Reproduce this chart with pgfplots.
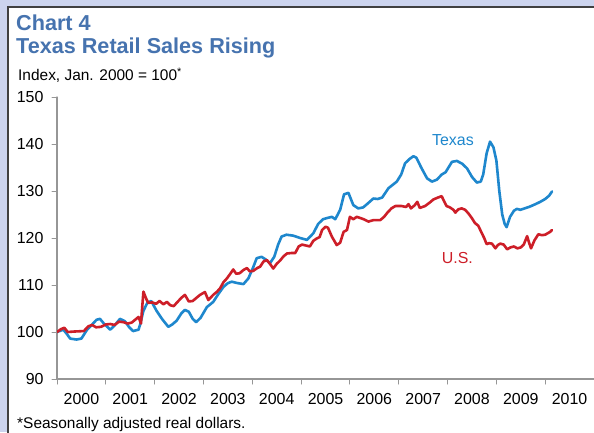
\documentclass[border=0pt]{standalone}
\usepackage{pgfplots}
\pgfplotsset{compat=1.18}
\usepackage{fontspec}
\setmainfont{Liberation Sans}
\definecolor{bgl}{RGB}{204,212,238}
\definecolor{ttl}{RGB}{70,115,175}
\definecolor{txb}{RGB}{30,135,205}
\definecolor{usr}{RGB}{205,30,40}
\definecolor{axg}{RGB}{150,150,150}
\begin{document}
\begin{tikzpicture}[x=1bp,y=1bp]
\useasboundingbox (0,0) rectangle (594,432);
\fill[bgl] (0,0) rectangle (594,432);
\fill[white] (8,-5) rectangle (600,425);
\draw[black!75, line width=1.5bp] (8,-5) -- (8,425) -- (600,425);
\node[anchor=base west, inner sep=0, text=ttl, font=\fontsize{21.7}{22}\bfseries\selectfont] at (16,401.5) {Chart 4};
\node[anchor=base west, inner sep=0, text=ttl, font=\fontsize{21.7}{22}\bfseries\selectfont] at (16,378.5) {Texas Retail Sales Rising};
\node[anchor=base west, inner sep=0, font=\fontsize{15.5}{16}\selectfont] at (18,351.5) {Index, Jan. 2000 = 100\textsuperscript{*}};
\node[anchor=base west, inner sep=0, font=\fontsize{15.5}{16}\selectfont] at (17,4) {*Seasonally adjusted real dollars.};
\begin{axis}[
  at={(57bp,53bp)}, anchor=south west,
  scale only axis, width=537bp, height=282bp,
  xmin=2000, xmax=2011, ymin=90, ymax=150,
  axis x line=bottom, axis y line=left,
  axis line style={axg, line width=1.2bp, -},
  tick style={axg, line width=1bp},
  tick align=outside, major tick length=5bp,
  xtick={2000,2001,2002,2003,2004,2005,2006,2007,2008,2009,2010,2011},
  x tick label as interval,
  xticklabels={2000,2001,2002,2003,2004,2005,2006,2007,2008,2009,2010},
  ytick={90,100,110,120,130,140,150},
  /pgf/number format/1000 sep={},
  /pgf/number format/assume math mode=true,
  ticklabel style={font=\fontsize{16}{16}\selectfont},
  yticklabel style={xshift=-5bp},
  xticklabel style={yshift=-6bp},
  line join=round, line cap=round,
]
\addplot[txb, line width=2.6bp] coordinates {
(2000.00,100.0) (2000.13,100.5) (2000.20,99.6) (2000.27,98.6) (2000.40,98.4) (2000.50,98.6)
(2000.61,100.4) (2000.72,101.6) (2000.81,102.6) (2000.88,102.8) (2000.96,101.8) (2001.09,100.5)
(2001.18,101.4) (2001.29,102.8) (2001.39,102.3) (2001.48,101.0) (2001.56,100.2) (2001.67,100.5)
(2001.70,101.5) (2001.77,104.5) (2001.85,106.2) (2001.93,106.6) (2002.04,104.5) (2002.15,102.8)
(2002.28,101.1) (2002.36,101.6) (2002.45,102.4) (2002.55,104.0) (2002.62,104.7) (2002.70,104.3)
(2002.78,102.8) (2002.85,102.1) (2002.94,103.0) (2003.07,105.3) (2003.20,106.4) (2003.30,108.0)
(2003.41,109.6) (2003.50,110.4) (2003.58,110.7) (2003.70,110.4) (2003.82,110.2) (2003.92,111.4)
(2004.02,113.8) (2004.09,115.7) (2004.19,116.0) (2004.28,115.4) (2004.36,114.6) (2004.45,116.0)
(2004.53,118.6) (2004.60,120.3) (2004.70,120.7) (2004.84,120.5) (2004.98,120.0) (2005.12,119.6)
(2005.25,121.0) (2005.35,123.0) (2005.45,124.0) (2005.55,124.3) (2005.63,124.5) (2005.70,124.0)
(2005.80,126.0) (2005.88,129.3) (2005.97,129.6) (2006.07,127.0) (2006.17,126.3) (2006.27,126.5)
(2006.35,127.2) (2006.48,128.4) (2006.57,128.3) (2006.66,128.6) (2006.79,130.6) (2006.96,132.0)
(2007.05,133.5) (2007.13,135.9) (2007.22,136.8) (2007.30,137.4) (2007.36,137.1) (2007.46,135.0)
(2007.58,132.7) (2007.68,132.0) (2007.78,132.4) (2007.88,133.5) (2007.96,134.0) (2008.09,136.2)
(2008.19,136.4) (2008.30,135.8) (2008.40,134.8) (2008.50,133.0) (2008.60,131.8) (2008.68,132.0)
(2008.73,133.5) (2008.80,138.0) (2008.87,140.5) (2008.94,139.3) (2009.00,136.5) (2009.06,130.0)
(2009.12,125.0) (2009.17,123.0) (2009.21,122.3) (2009.28,124.5) (2009.36,125.8) (2009.42,126.2)
(2009.49,126.0) (2009.58,126.3) (2009.69,126.7) (2009.80,127.2) (2009.90,127.7) (2010.00,128.3)
(2010.08,129.0) (2010.14,129.9)
};
\addplot[usr, line width=2.6bp] coordinates {
(2000.00,100.0) (2000.08,100.6) (2000.15,100.9) (2000.22,100.0) (2000.35,100.1) (2000.55,100.2)
(2000.64,101.2) (2000.72,101.5) (2000.80,101.0) (2000.90,101.1) (2001.00,101.6) (2001.09,101.7)
(2001.18,101.5) (2001.27,102.2) (2001.36,102.1) (2001.45,101.8) (2001.53,102.0) (2001.60,102.6)
(2001.67,103.2) (2001.72,101.8) (2001.77,108.6) (2001.83,107.0) (2001.87,106.2) (2001.95,106.3)
(2002.03,106.0) (2002.10,106.6) (2002.18,105.9) (2002.25,106.4) (2002.32,105.7) (2002.39,105.5)
(2002.46,106.3) (2002.55,107.3) (2002.62,107.9) (2002.70,106.5) (2002.78,106.6) (2002.86,107.3)
(2002.93,107.9) (2003.03,108.5) (2003.10,106.8) (2003.20,107.9) (2003.28,108.6) (2003.34,109.3)
(2003.41,110.6) (2003.48,111.4) (2003.55,112.4) (2003.61,113.3) (2003.67,112.4) (2003.74,112.5)
(2003.82,113.2) (2003.89,113.6) (2003.95,112.9) (2004.02,113.0) (2004.10,113.6) (2004.16,113.9)
(2004.23,115.0) (2004.30,115.3) (2004.37,114.4) (2004.43,113.5) (2004.50,114.5) (2004.57,115.2)
(2004.64,116.1) (2004.71,116.7) (2004.80,116.8) (2004.88,116.8) (2004.95,118.2) (2005.02,118.6)
(2005.10,118.4) (2005.18,118.2) (2005.25,119.4) (2005.32,119.9) (2005.38,120.2) (2005.43,121.7)
(2005.50,122.4) (2005.55,122.2) (2005.63,120.3) (2005.73,118.5) (2005.80,119.0) (2005.87,121.3)
(2005.94,121.7) (2006.00,124.5) (2006.07,124.0) (2006.14,124.5) (2006.20,124.3) (2006.28,124.0)
(2006.38,123.5) (2006.48,123.8) (2006.62,123.8) (2006.70,124.5) (2006.76,125.3) (2006.85,126.3)
(2006.93,126.8) (2007.06,126.8) (2007.15,126.6) (2007.20,127.2) (2007.25,126.3) (2007.33,127.0)
(2007.38,127.7) (2007.43,126.4) (2007.54,126.8) (2007.63,127.5) (2007.71,128.2) (2007.80,128.6)
(2007.88,128.9) (2007.93,127.8) (2007.98,126.8) (2008.05,126.5) (2008.12,126.0) (2008.16,125.4)
(2008.22,126.1) (2008.29,126.3) (2008.36,126.0) (2008.43,125.2) (2008.50,124.2) (2008.56,123.2)
(2008.63,122.6) (2008.68,121.5) (2008.75,120.0) (2008.80,118.7) (2008.85,118.9) (2008.91,118.8)
(2008.98,117.8) (2009.03,118.5) (2009.08,118.8) (2009.15,118.6) (2009.22,117.6) (2009.29,118.0)
(2009.36,118.2) (2009.43,117.8) (2009.50,118.0) (2009.56,118.6) (2009.63,120.4) (2009.67,119.0)
(2009.71,117.8) (2009.78,119.5) (2009.86,120.8) (2009.93,120.6) (2010.00,120.7) (2010.10,121.3)
(2010.14,121.7)
};
\node[text=txb, font=\fontsize{16}{16}\selectfont] at (axis cs:2008.11,140.85) {Texas};
\node[text=usr, font=\fontsize{16}{16}\selectfont] at (axis cs:2008.20,115.7) {U.S.};
\end{axis}
\end{tikzpicture}
\end{document}
